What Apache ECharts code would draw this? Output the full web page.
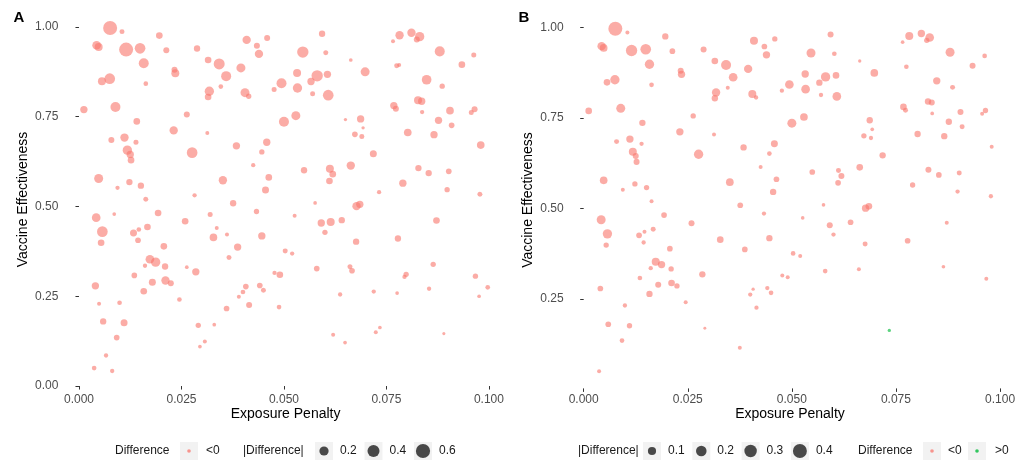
<!DOCTYPE html>
<html><head><meta charset="utf-8">
<script src="https://cdn.jsdelivr.net/npm/echarts@6/dist/echarts.min.js"></script>
<style>html,body{margin:0;padding:0;background:#fff}#c{width:1032px;height:462px}</style>
</head><body><div id="c"></div>
<script>
const xTicks = [0, 0.025, 0.05, 0.075, 0.1];
const yTicksA = [0, 0.25, 0.5, 0.75, 1];
const yTicksB = [0.25, 0.5, 0.75, 1];
const sizeBreaksA = [0.2, 0.4, 0.6];
const sizeBreaksB = [0.1, 0.2, 0.3, 0.4];

// [Exposure Penalty, Vaccine Effectiveness, |Difference|]
const panelA = [
[0.0076,0.997,0.58],[0.0105,0.987,0.029],[0.0043,0.949,0.169],[0.0048,0.944,0.135],[0.0115,0.937,0.579],
[0.0149,0.9405,0.294],[0.0158,0.899,0.249],[0.0196,0.976,0.078],[0.0213,0.935,0.056],[0.0288,0.940,0.067],
[0.0315,0.908,0.078],[0.0342,0.897,0.318],[0.0233,0.881,0.056],[0.0235,0.871,0.135],[0.0163,0.842,0.022],
[0.0056,0.849,0.135],[0.0075,0.856,0.294],[0.0012,0.770,0.105],[0.0089,0.777,0.249],[0.0141,0.737,0.078],
[0.0079,0.685,0.056],[0.0111,0.692,0.152],[0.0139,0.679,0.029],[0.0118,0.657,0.207],[0.0125,0.645,0.105],
[0.0127,0.629,0.078],[0.0048,0.578,0.188],[0.0094,0.552,0.016],[0.0123,0.568,0.067],[0.0151,0.558,0.067],
[0.0163,0.520,0.029],[0.0263,0.756,0.056],[0.0231,0.712,0.152],[0.0313,0.705,0.011],[0.0276,0.650,0.294],
[0.0282,0.531,0.016],[0.0351,0.573,0.152],[0.0376,0.509,0.067],[0.0384,0.669,0.105],[0.0318,0.821,0.207],
[0.0315,0.805,0.078],[0.0346,0.834,0.022],[0.0359,0.863,0.249],[0.0395,0.886,0.188],[0.0409,0.964,0.152],
[0.0434,0.948,0.056],[0.0439,0.925,0.152],[0.0459,0.969,0.056],[0.0405,0.817,0.188],[0.0414,0.807,0.037],
[0.0476,0.826,0.029],[0.0494,0.843,0.249],[0.0532,0.872,0.135],[0.0533,0.830,0.207],[0.0546,0.930,0.344],
[0.0593,0.981,0.067],[0.0602,0.928,0.029],[0.0581,0.864,0.344],[0.0566,0.848,0.105],[0.0606,0.868,0.105],
[0.0570,0.814,0.029],[0.0608,0.810,0.294],[0.0529,0.753,0.188],[0.0500,0.736,0.249],[0.0425,0.615,0.016],
[0.0446,0.652,0.037],[0.0458,0.679,0.105],[0.0463,0.581,0.078],[0.0455,0.546,0.091],[0.0549,0.601,0.067],
[0.0576,0.510,0.007],[0.0612,0.605,0.135],[0.0619,0.590,0.078],[0.0611,0.571,0.078],[0.0663,0.908,0.007],
[0.0698,0.875,0.188],[0.0650,0.742,0.004],[0.0687,0.744,0.105],[0.0693,0.719,0.004],[0.0673,0.701,0.046],
[0.0690,0.695,0.029],[0.0718,0.647,0.091],[0.0663,0.614,0.152],[0.0732,0.540,0.016],[0.0766,0.960,0.011],
[0.0782,0.977,0.152],[0.0811,0.984,0.152],[0.0831,0.973,0.207],[0.0824,0.965,0.056],[0.0880,0.932,0.249],
[0.0963,0.922,0.029],[0.0934,0.895,0.078],[0.0775,0.892,0.029],[0.0781,0.894,0.011],[0.0848,0.853,0.227],
[0.0886,0.835,0.037],[0.0827,0.796,0.135],[0.0836,0.793,0.105],[0.0768,0.781,0.105],[0.0773,0.772,0.056],
[0.0837,0.763,0.016],[0.0905,0.767,0.119],[0.0965,0.771,0.056],[0.0957,0.762,0.029],[0.0877,0.740,0.105],
[0.0909,0.726,0.046],[0.0802,0.706,0.119],[0.0866,0.700,0.105],[0.0980,0.671,0.119],[0.0828,0.607,0.067],
[0.0853,0.593,0.067],[0.0902,0.598,0.046],[0.0790,0.565,0.105],[0.0898,0.547,0.037],[0.0978,0.534,0.029],
[0.0677,0.501,0.152],[0.0685,0.506,0.105],[0.0042,0.469,0.169],[0.0086,0.479,0.007],[0.0057,0.430,0.294],
[0.0054,0.399,0.078],[0.0133,0.426,0.091],[0.0146,0.436,0.022],[0.0144,0.406,0.046],[0.0167,0.443,0.078],
[0.0193,0.482,0.078],[0.0259,0.459,0.078],[0.0320,0.478,0.029],[0.0336,0.440,0.011],[0.0328,0.414,0.119],
[0.0361,0.422,0.011],[0.0387,0.387,0.105],[0.0446,0.418,0.105],[0.0433,0.486,0.037],[0.0526,0.474,0.011],
[0.0591,0.454,0.105],[0.0614,0.457,0.135],[0.0600,0.428,0.037],[0.0641,0.462,0.067],[0.0676,0.402,0.067],
[0.0872,0.461,0.078],[0.0778,0.411,0.067],[0.0207,0.389,0.078],[0.0173,0.353,0.169],[0.0187,0.345,0.207],
[0.0161,0.335,0.016],[0.0210,0.333,0.067],[0.0263,0.331,0.007],[0.0285,0.318,0.105],[0.0366,0.358,0.029],
[0.0503,0.376,0.029],[0.0520,0.369,0.016],[0.0580,0.327,0.046],[0.0477,0.315,0.016],[0.0490,0.310,0.078],
[0.0661,0.332,0.029],[0.0666,0.321,0.046],[0.0864,0.339,0.037],[0.0798,0.311,0.037],[0.0794,0.304,0.016],
[0.0135,0.308,0.046],[0.0179,0.289,0.091],[0.0211,0.294,0.152],[0.0224,0.286,0.056],[0.0158,0.264,0.078],
[0.0040,0.279,0.105],[0.0245,0.241,0.022],[0.0049,0.229,0.011],[0.0099,0.232,0.022],[0.0059,0.180,0.067],
[0.0110,0.176,0.091],[0.0092,0.135,0.046],[0.0066,0.085,0.016],[0.0037,0.050,0.022],[0.0081,0.042,0.016],
[0.0291,0.169,0.037],[0.0330,0.171,0.007],[0.0307,0.124,0.011],[0.0295,0.110,0.007],[0.0360,0.216,0.046],
[0.0390,0.249,0.011],[0.0400,0.262,0.022],[0.0407,0.277,0.046],[0.0415,0.226,0.056],[0.0441,0.280,0.046],
[0.0450,0.267,0.029],[0.0488,0.220,0.022],[0.0637,0.255,0.016],[0.0719,0.263,0.016],[0.0776,0.259,0.007],
[0.0854,0.271,0.016],[0.0976,0.250,0.007],[0.0997,0.275,0.022],[0.0967,0.306,0.037],[0.0620,0.143,0.011],
[0.0649,0.121,0.007],[0.0724,0.150,0.011],[0.0734,0.163,0.007],[0.0890,0.146,0.002]
];

// Panel B, Difference < 0
const panelBNeg = [
[0.0076,0.997,0.40],[0.0105,0.987,0.0076],[0.0043,0.949,0.105],[0.0048,0.944,0.083],[0.0115,0.937,0.239],
[0.0149,0.9405,0.204],[0.0158,0.899,0.1435],[0.0196,0.976,0.0465],[0.0213,0.935,0.032],[0.0288,0.940,0.039],
[0.0315,0.908,0.054],[0.0342,0.897,0.173],[0.0233,0.881,0.039],[0.0235,0.871,0.073],[0.0163,0.842,0.0155],
[0.0056,0.849,0.054],[0.0075,0.856,0.1435],[0.0012,0.770,0.054],[0.0089,0.777,0.130],[0.0141,0.737,0.0465],
[0.0079,0.685,0.020],[0.0111,0.692,0.073],[0.0139,0.679,0.011],[0.0118,0.657,0.094],[0.0125,0.645,0.039],
[0.0127,0.629,0.039],[0.0048,0.578,0.083],[0.0094,0.552,0.0076],[0.0123,0.568,0.026],[0.0151,0.558,0.026],
[0.0163,0.520,0.0076],[0.0263,0.756,0.026],[0.0231,0.712,0.073],[0.0313,0.705,0.0076],[0.0276,0.650,0.1435],
[0.0351,0.573,0.083],[0.0376,0.509,0.032],[0.0384,0.669,0.0465],[0.0318,0.821,0.105],[0.0315,0.805,0.0465],
[0.0346,0.834,0.0076],[0.0359,0.863,0.117],[0.0395,0.886,0.105],[0.0409,0.964,0.094],[0.0434,0.948,0.032],
[0.0439,0.925,0.073],[0.0459,0.969,0.026],[0.0405,0.817,0.094],[0.0414,0.807,0.011],[0.0476,0.826,0.011],
[0.0494,0.843,0.117],[0.0532,0.872,0.073],[0.0533,0.830,0.117],[0.0546,0.930,0.130],[0.0593,0.981,0.039],
[0.0602,0.928,0.0155],[0.0581,0.864,0.1435],[0.0566,0.848,0.0465],[0.0606,0.868,0.054],[0.0570,0.814,0.011],
[0.0608,0.810,0.117],[0.0529,0.753,0.083],[0.0500,0.736,0.130],[0.0425,0.615,0.0076],[0.0446,0.652,0.0155],
[0.0458,0.679,0.063],[0.0463,0.581,0.032],[0.0455,0.546,0.0465],[0.0549,0.601,0.032],[0.0576,0.510,0.0048],
[0.0612,0.605,0.020],[0.0619,0.590,0.039],[0.0611,0.571,0.032],[0.0663,0.908,0.0026],[0.0698,0.875,0.083],
[0.0687,0.744,0.0465],[0.0693,0.719,0.0048],[0.0673,0.701,0.026],[0.0690,0.695,0.011],[0.0718,0.647,0.0465],
[0.0663,0.614,0.054],[0.0766,0.960,0.0048],[0.0782,0.977,0.094],[0.0811,0.984,0.073],[0.0831,0.973,0.117],
[0.0824,0.965,0.026],[0.0880,0.932,0.130],[0.0963,0.922,0.0155],[0.0934,0.895,0.039],[0.0775,0.892,0.0155],
[0.0848,0.853,0.073],[0.0886,0.835,0.020],[0.0827,0.796,0.0465],[0.0836,0.793,0.039],[0.0768,0.781,0.054],
[0.0773,0.772,0.020],[0.0837,0.763,0.0048],[0.0905,0.767,0.039],[0.0965,0.771,0.026],[0.0957,0.762,0.0076],
[0.0877,0.740,0.0465],[0.0909,0.726,0.020],[0.0802,0.706,0.0465],[0.0866,0.700,0.0465],[0.0980,0.671,0.0076],
[0.0828,0.607,0.039],[0.0853,0.593,0.032],[0.0902,0.598,0.020],[0.0790,0.565,0.026],[0.0898,0.547,0.011],
[0.0978,0.534,0.011],
[0.0677,0.501,0.073],[0.0685,0.506,0.054],[0.0042,0.469,0.130],[0.0057,0.430,0.1435],[0.0054,0.399,0.026],
[0.0133,0.426,0.032],[0.0146,0.436,0.0076],[0.0144,0.406,0.011],[0.0167,0.443,0.020],[0.0193,0.482,0.032],
[0.0259,0.459,0.039],[0.0328,0.414,0.054],[0.0387,0.387,0.032],[0.0446,0.418,0.0465],[0.0433,0.486,0.011],
[0.0526,0.474,0.0048],[0.0591,0.454,0.039],[0.0600,0.428,0.011],[0.0641,0.462,0.032],[0.0676,0.402,0.020],
[0.0872,0.461,0.0076],[0.0778,0.411,0.032],[0.0207,0.389,0.032],[0.0173,0.353,0.094],[0.0187,0.345,0.073],
[0.0161,0.335,0.011],[0.0210,0.333,0.026],[0.0285,0.318,0.0465],[0.0503,0.376,0.0155],[0.0520,0.369,0.0076],
[0.0580,0.327,0.0155],[0.0477,0.315,0.0076],[0.0490,0.310,0.0076],[0.0661,0.332,0.0076],[0.0864,0.339,0.0048],
[0.0135,0.308,0.0155],[0.0179,0.289,0.039],[0.0211,0.294,0.054],[0.0224,0.286,0.026],[0.0158,0.264,0.0465],
[0.0040,0.279,0.032],[0.0245,0.241,0.0076],[0.0099,0.232,0.011],[0.0059,0.180,0.032],[0.0110,0.176,0.026],
[0.0092,0.135,0.0155],[0.0037,0.050,0.0076],[0.0291,0.169,0.001],[0.0400,0.262,0.011],[0.0407,0.277,0.0026],
[0.0415,0.226,0.011],[0.0441,0.280,0.011],[0.0450,0.267,0.0155],[0.0967,0.306,0.0076],[0.0375,0.115,0.0076]
];
// Panel B, Difference > 0
const panelBPos = [[0.0734,0.163,0.0026]];

const PINK = 'rgba(248,118,109,0.76)';
const GREEN = 'rgba(0,186,56,0.8)';
const KEYDOT = 'rgba(0,0,0,0.7)';
const FONT = 'Liberation Sans, Arial, sans-serif';
const sizeA = v => 2.4 + 12 * Math.sqrt(v / 0.62);
const sizeB = v => 2.4 + 12 * Math.sqrt(v / 0.43);

function mkX(gi, min, max) {
  return { gridIndex: gi, type: 'value', min: min, max: max,
    axisLine: { show: false }, splitLine: { show: false },
    axisTick: { show: true, customValues: xTicks, length: 3.5, lineStyle: { color: '#333', width: 1 } },
    axisLabel: { customValues: xTicks, formatter: v => v.toFixed(3), color: '#4d4d4d', fontSize: 12, fontFamily: FONT, margin: 5 } };
}
function mkY(gi, min, max, ticks) {
  return { gridIndex: gi, type: 'value', min: min, max: max,
    axisLine: { show: false }, splitLine: { show: false },
    axisTick: { show: true, customValues: ticks, length: 3.5, lineStyle: { color: '#333', width: 1 } },
    axisLabel: { customValues: ticks, formatter: v => v.toFixed(2), color: '#4d4d4d', fontSize: 12, fontFamily: FONT, margin: 5 } };
}

const graphic = [];
function txt(x, y, s, opt) {
  graphic.push(Object.assign({ type: 'text', x: x, y: y,
    style: Object.assign({ text: s, fill: '#1a1a1a', fontSize: 12, fontFamily: FONT, align: 'left', verticalAlign: 'middle' }, (opt && opt.style) || {}) },
    (opt && opt.el) || {}));
}
function key(x, y, r, color) {
  graphic.push({ type: 'rect', shape: { x: x, y: y - 9, width: 18, height: 18 }, style: { fill: '#f2f2f2' } });
  graphic.push({ type: 'circle', shape: { cx: x + 9, cy: y, r: r }, style: { fill: color } });
}
// titles
txt(19, 18, 'A', { style: { fontSize: 15, fontWeight: 'bold', fill: '#000', align: 'center' } });
txt(524, 18, 'B', { style: { fontSize: 15, fontWeight: 'bold', fill: '#000', align: 'center' } });
txt(285.6, 414, 'Exposure Penalty', { style: { fontSize: 14, fill: '#000', align: 'center' } });
txt(790, 414, 'Exposure Penalty', { style: { fontSize: 14, fill: '#000', align: 'center' } });
txt(23, 199.5, 'Vaccine Effectiveness', { style: { fontSize: 14, fill: '#000', align: 'center' }, el: { rotation: Math.PI / 2 } });
txt(528, 200, 'Vaccine Effectiveness', { style: { fontSize: 14, fill: '#000', align: 'center' }, el: { rotation: Math.PI / 2 } });
// legend A
const LY = 451;
txt(115, LY, 'Difference');
key(180, LY, 1.8, PINK); txt(206, LY, '<0');
txt(243, LY, '|Difference|');
sizeBreaksA.forEach((v, i) => { const kx = 315 + i * 49.5; key(kx, LY, sizeA(v) / 2, KEYDOT); txt(kx + 25, LY, v.toFixed(1)); });
// legend B
txt(578, LY, '|Difference|');
sizeBreaksB.forEach((v, i) => { const kx = 643 + i * 49.3; key(kx, LY, sizeB(v) / 2, KEYDOT); txt(kx + 25, LY, v.toFixed(1)); });
txt(858, LY, 'Difference');
key(923, LY, 1.8, PINK); txt(948, LY, '<0');
key(968, LY, 1.8, GREEN); txt(995, LY, '>0');

const chart = echarts.init(document.getElementById('c'), null, { renderer: 'canvas' });
chart.setOption({
  animation: false,
  backgroundColor: '#fff',
  grid: [
    { left: 63.4, top: 10.8, width: 444.4, height: 377.4, outerBoundsMode: 'none', containLabel: false },
    { left: 568.7, top: 11.6, width: 443, height: 376.8, outerBoundsMode: 'none', containLabel: false }
  ],
  xAxis: [mkX(0, -0.0038, 0.1046), mkX(1, -0.0036, 0.1028)],
  yAxis: [mkY(0, -0.006, 1.045, yTicksA), mkY(1, 0.0027, 1.0445, yTicksB)],
  series: [
    { type: 'scatter', xAxisIndex: 0, yAxisIndex: 0, data: panelA, symbolSize: d => sizeA(d[2]), itemStyle: { color: PINK }, silent: true },
    { type: 'scatter', xAxisIndex: 1, yAxisIndex: 1, data: panelBNeg, symbolSize: d => sizeB(d[2]), itemStyle: { color: PINK }, silent: true },
    { type: 'scatter', xAxisIndex: 1, yAxisIndex: 1, data: panelBPos, symbolSize: d => sizeB(d[2]), itemStyle: { color: GREEN }, silent: true }
  ],
  graphic: graphic
});
</script></body></html>
